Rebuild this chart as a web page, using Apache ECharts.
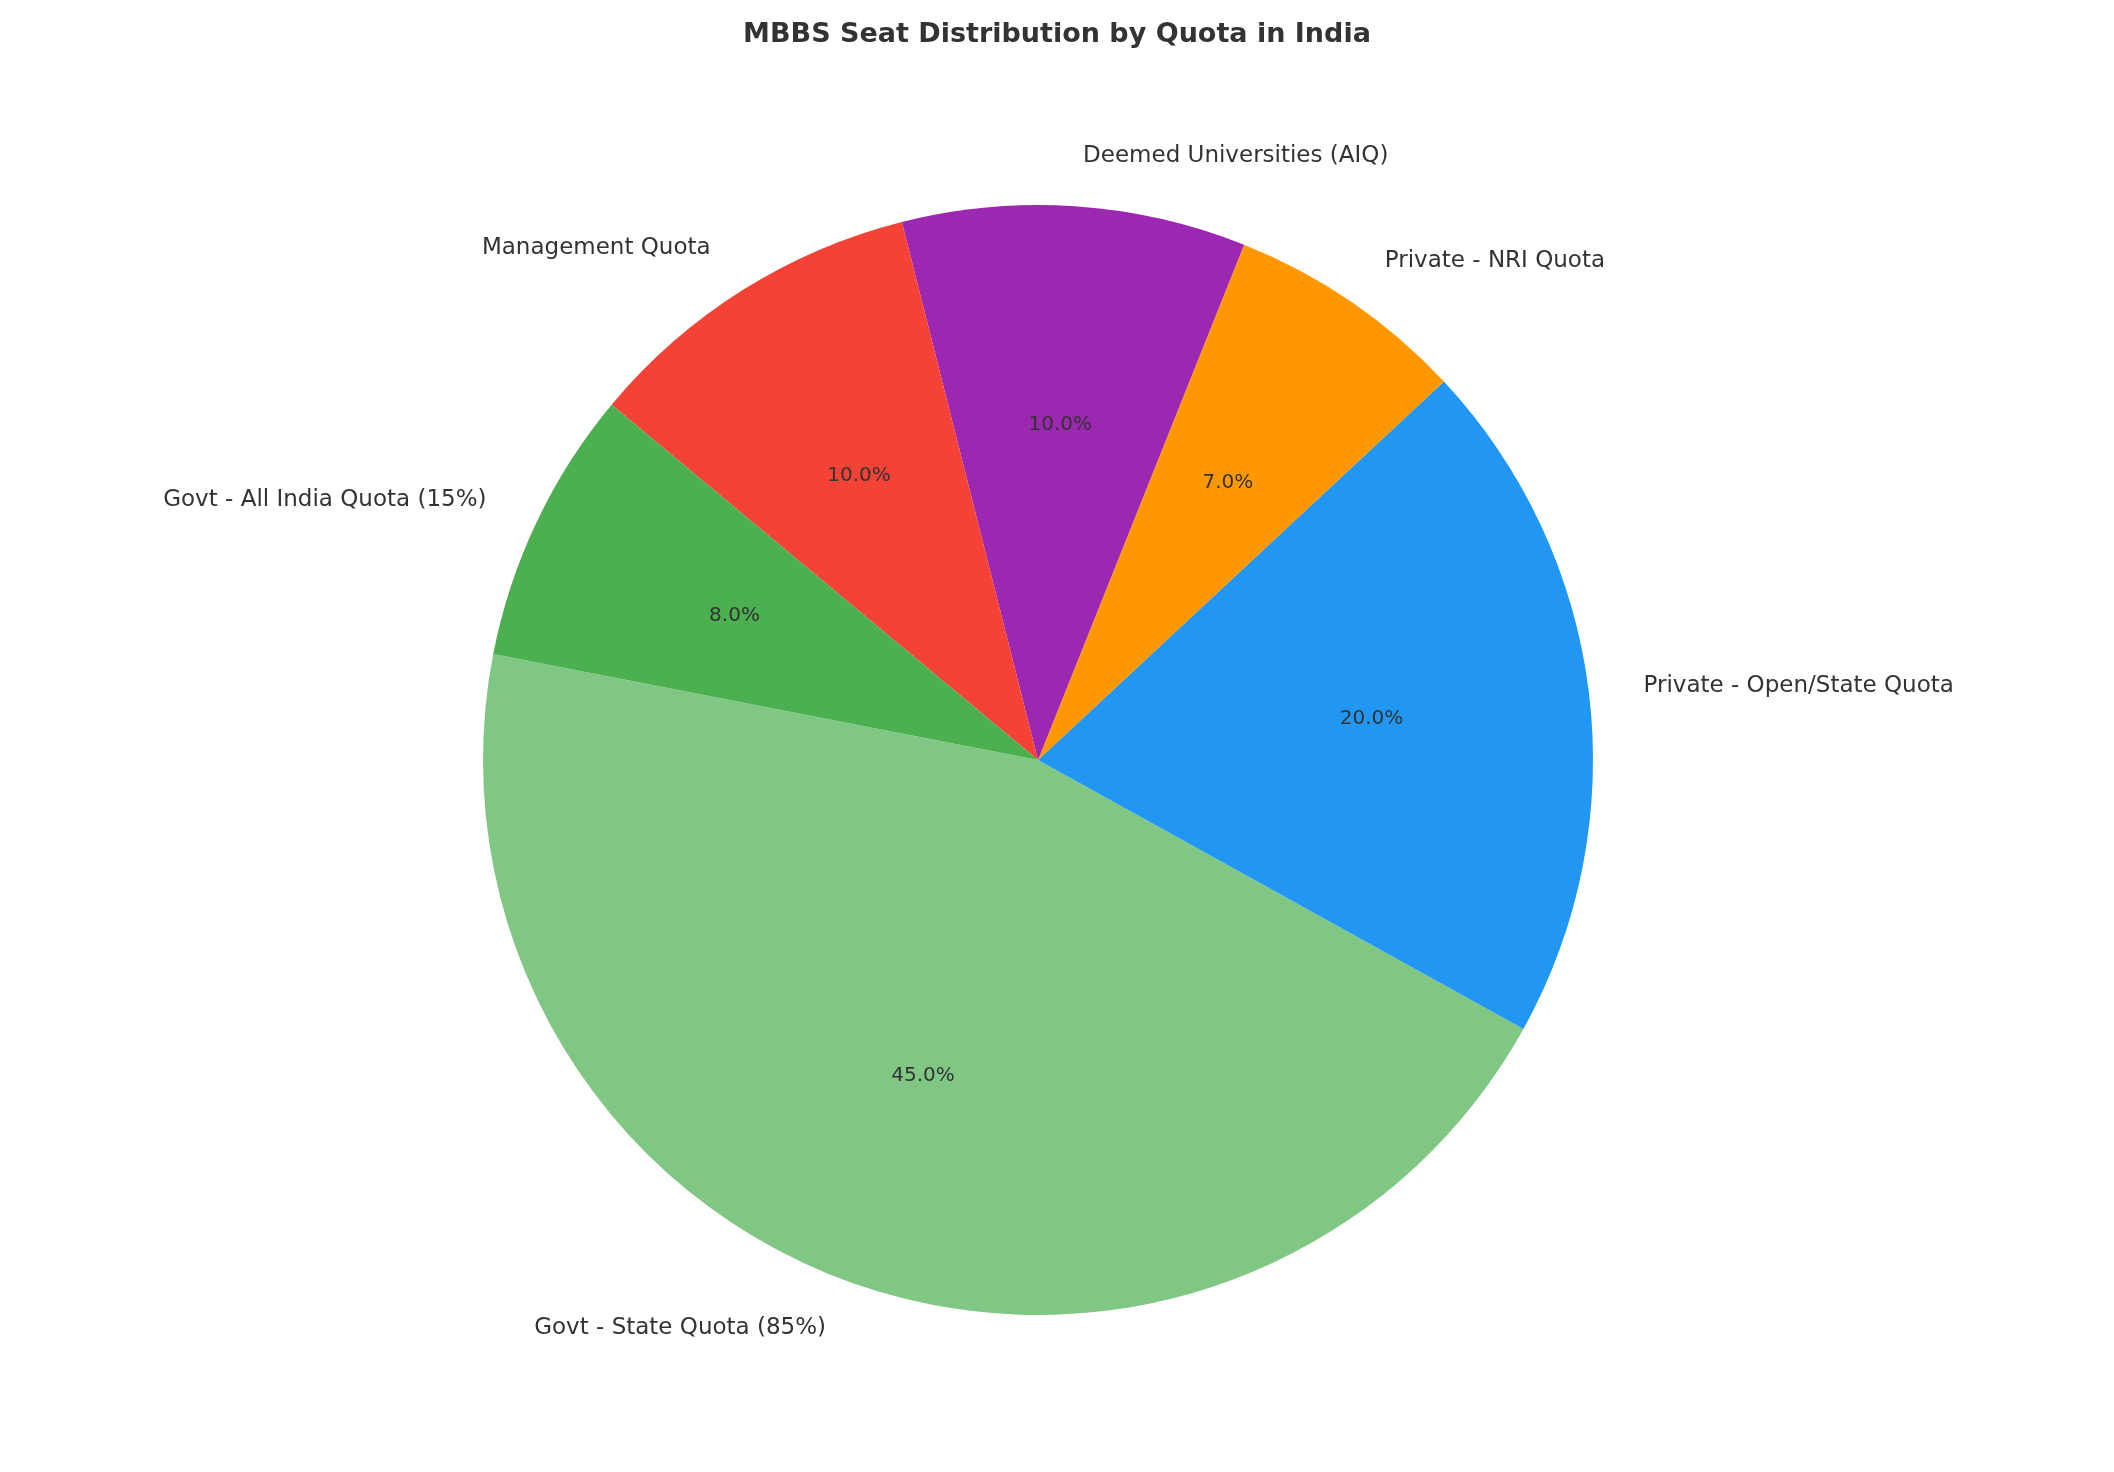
<!DOCTYPE html>
<html>
<head>
<meta charset="utf-8">
<script src="https://cdn.jsdelivr.net/npm/echarts@6/dist/echarts.min.js"></script>
<style>html,body{margin:0;background:#fff}#main{width:2114px;height:1472px}</style>
</head>
<body>
<div id="main"></div>
<script>
var categories = ['Govt - State Quota (85%)', 'Private - Open/State Quota', 'Private - NRI Quota',
  'Deemed Universities (AIQ)', 'Management Quota', 'Govt - All India Quota (15%)'];
var values = [45, 20, 7, 10, 10, 8];
var colors = ['#81c784', '#2196f3', '#ff9800', '#9c27b0', '#f44336', '#4caf50'];

var R = 555;
var data = categories.map(function (c, i) {
  return { name: c, value: values[i], itemStyle: { color: colors[i] } };
});
var myChart = echarts.init(document.getElementById('main'));
var option = {
  title: {
    text: 'MBBS Seat Distribution by Quota in India',
    left: 'center', top: 16,
    textStyle: { fontSize: 27, fontWeight: 'bold', color: '#333', fontFamily: 'DejaVu Sans' }
  },
  series: [
    {
      type: 'pie', center: [1038, 760], radius: [0, R],
      startAngle: 169, clockwise: false, silent: true,
      data: data,
      label: { position: 'outside', fontSize: 23, color: '#333', fontFamily: 'DejaVu Sans', formatter: '{b}' },
      labelLine: { show: false, length: 50, length2: 0 },
      itemStyle: { borderWidth: 0 }
    },
    {
      type: 'pie', center: [1038, 760], radius: [0, R * 1.2],
      startAngle: 169, clockwise: false, silent: true,
      data: categories.map(function (c, i) { return { name: c, value: values[i] }; }),
      itemStyle: { color: 'rgba(0,0,0,0)' },
      label: {
        position: 'inside', fontSize: 20, color: '#333', fontFamily: 'DejaVu Sans',
        formatter: function (p) { return p.value.toFixed(1) + '%'; }
      },
      labelLine: { show: false }
    }
  ]
};
myChart.setOption(option);
</script>
</body>
</html>
